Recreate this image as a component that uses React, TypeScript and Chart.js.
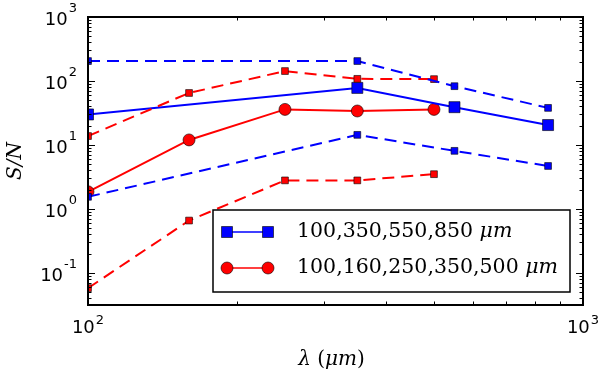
import React, { useEffect, useRef } from "react";
import { Chart, registerables } from "chart.js";

Chart.register(...registerables);

// ---- data ----
const blueWavelengths = [100, 350, 550, 850];
const blueMid = [30, 78, 39, 20.5];
const blueUpper = [205, 205, 83, 38];
const blueLower = [1.55, 14.4, 8.1, 4.7];

const redWavelengths = [100, 160, 250, 350, 500];
const redMid = [1.86, 12, 36, 34, 36];
const redUpper = [13.8, 65, 143, 108, 107];
const redLower = [0.058, 0.66, 2.8, 2.8, 3.5];

const xDecades = [2, 3];
const yDecades = [-1, 0, 1, 2, 3];
const legendLabels = ["100,350,550,850 ", "100,160,250,350,500 "];
const legendUnit = "μm";
const yTitle = "S/N";

const BLUE = "#0000ff";
const RED = "#ff0000";

const pts = (xs: number[], ys: number[]) => xs.map((x, i) => ({ x, y: ys[i] }));

const clipper = {
  id: "clipper",
  beforeDatasetsDraw(chart: any) {
    const { ctx, chartArea: a } = chart;
    ctx.save();
    ctx.beginPath();
    ctx.rect(a.left, a.top, a.right - a.left, a.bottom - a.top);
    ctx.clip();
  },
  afterDatasetsDraw(chart: any) {
    chart.ctx.restore();
  },
};

const overlay = {
  id: "overlay",
  afterDraw(chart: any) {
    const { ctx, chartArea: a, scales } = chart;
    const sx = scales.x;
    const sy = scales.y;
    ctx.save();
    ctx.strokeStyle = "#000";
    ctx.lineWidth = 1;
    const majorLen = 7;
    const minorLen = 3.5;
    for (let n = -2; n <= 3; n++) {
      for (let m = 1; m <= 9; m++) {
        const v = m * Math.pow(10, n);
        const py = Math.round(sy.getPixelForValue(v)) + 0.5;
        if (py < a.top - 0.1 || py > a.bottom + 0.1) continue;
        const len = m === 1 ? majorLen : minorLen;
        ctx.beginPath();
        ctx.moveTo(a.left, py);
        ctx.lineTo(a.left + len, py);
        ctx.moveTo(a.right, py);
        ctx.lineTo(a.right - len, py);
        ctx.stroke();
      }
    }
    for (let n = 2; n <= 3; n++) {
      for (let m = 1; m <= 9; m++) {
        const v = m * Math.pow(10, n);
        const px = Math.round(sx.getPixelForValue(v)) + 0.5;
        if (px < a.left - 0.1 || px > a.right + 0.1) continue;
        const len = m === 1 ? majorLen : minorLen;
        ctx.beginPath();
        ctx.moveTo(px, a.bottom);
        ctx.lineTo(px, a.bottom - len);
        ctx.moveTo(px, a.top);
        ctx.lineTo(px, a.top + len);
        ctx.stroke();
      }
    }
    ctx.lineWidth = 2;
    ctx.strokeRect(a.left, a.top, a.right - a.left, a.bottom - a.top);

    const baseFont = "18px 'DejaVu Sans'";
    const expFont = "13px 'DejaVu Sans'";
    ctx.fillStyle = "#000";
    ctx.textBaseline = "middle";
    for (const n of yDecades) {
      const py = sy.getPixelForValue(Math.pow(10, n));
      const exp = String(n);
      ctx.font = expFont;
      const we = ctx.measureText(exp).width;
      const right = a.left - 11;
      ctx.textAlign = "left";
      ctx.fillText(exp, right - we, py - 8);
      ctx.font = baseFont;
      ctx.textAlign = "right";
      ctx.fillText("10", right - we - 1, py + 3);
    }
    for (const n of xDecades) {
      const px = sx.getPixelForValue(Math.pow(10, n));
      const exp = String(n);
      ctx.font = baseFont;
      const wb = ctx.measureText("10").width;
      ctx.font = expFont;
      const we = ctx.measureText(exp).width;
      const start = px - (wb + we + 1) / 2;
      ctx.font = baseFont;
      ctx.textAlign = "left";
      ctx.fillText("10", start, a.bottom + 23);
      ctx.font = expFont;
      ctx.fillText(exp, start + wb + 1, a.bottom + 16);
    }

    const tf = "20px 'DejaVu Serif'";
    const ti = "italic 20px 'DejaVu Serif'";
    const parts: [string, string][] = [["λ", ti], [" (", tf], ["μm", ti], [")", tf]];
    let tw = 0;
    for (const [s, f] of parts) { ctx.font = f; tw += ctx.measureText(s).width; }
    let tx = (a.left + a.right) / 2 - 4 - tw / 2;
    ctx.textAlign = "left";
    for (const [s, f] of parts) {
      ctx.font = f;
      ctx.fillText(s, tx, a.bottom + 55);
      tx += ctx.measureText(s).width;
    }

    ctx.save();
    ctx.translate(16, (a.top + a.bottom) / 2);
    ctx.rotate(-Math.PI / 2);
    ctx.textAlign = "center";
    ctx.font = "italic 20px 'DejaVu Serif'";
    ctx.fillText(yTitle, 0, 0);
    ctx.restore();

    const lx = 213, ly = 210, lw = 357, lh = 82;
    ctx.fillStyle = "#fff";
    ctx.fillRect(lx, ly, lw, lh);
    ctx.lineWidth = 1.5;
    ctx.strokeStyle = "#000";
    ctx.strokeRect(lx, ly, lw, lh);
    const rows = [
      { y: 232, color: BLUE, shape: "rect", label: legendLabels[0] },
      { y: 268, color: RED, shape: "circle", label: legendLabels[1] },
    ];
    for (const r of rows) {
      ctx.strokeStyle = r.color;
      ctx.lineWidth = 1.5;
      ctx.beginPath();
      ctx.moveTo(227, r.y);
      ctx.lineTo(268, r.y);
      ctx.stroke();
      for (const mx of [227, 268]) {
        ctx.fillStyle = r.color;
        ctx.strokeStyle = "#000";
        ctx.lineWidth = 0.6;
        ctx.beginPath();
        if (r.shape === "rect") ctx.rect(mx - 5.5, r.y - 5.5, 11, 11);
        else ctx.arc(mx, r.y, 6, 0, Math.PI * 2);
        ctx.fill();
        ctx.stroke();
      }
      ctx.fillStyle = "#000";
      ctx.textAlign = "left";
      ctx.textBaseline = "middle";
      ctx.font = "20.5px 'DejaVu Serif'";
      ctx.fillText(r.label, 297, r.y);
      const w = ctx.measureText(r.label).width;
      ctx.font = "italic 20.5px 'DejaVu Serif'";
      ctx.fillText(legendUnit, 297 + w, r.y);
    }
    ctx.restore();
  },
};

export default function App() {
  const ref = useRef<HTMLCanvasElement>(null);
  useEffect(() => {
    if (!ref.current) return;
    const dashed = [12, 7];
    const small = {
      pointRadius: 4.8,
      pointStyle: "rect",
      pointBorderColor: "#000",
      pointBorderWidth: 0.6,
      borderWidth: 2,
      borderDash: dashed,
      fill: false,
      tension: 0,
    };
    const chart = new Chart(ref.current, {
      type: "line",
      data: {
        datasets: [
          { ...small, data: pts(blueWavelengths, blueUpper), borderColor: BLUE, pointBackgroundColor: BLUE },
          { ...small, data: pts(blueWavelengths, blueLower), borderColor: BLUE, pointBackgroundColor: BLUE },
          { ...small, data: pts(redWavelengths, redUpper), borderColor: RED, pointBackgroundColor: RED },
          { ...small, data: pts(redWavelengths, redLower), borderColor: RED, pointBackgroundColor: RED },
          {
            data: pts(blueWavelengths, blueMid),
            borderColor: BLUE,
            pointBackgroundColor: BLUE,
            pointBorderColor: "#000",
            pointBorderWidth: 0.6,
            pointStyle: "rect",
            pointRadius: 7.8,
            borderWidth: 2,
            fill: false,
          },
          {
            data: pts(redWavelengths, redMid),
            borderColor: RED,
            pointBackgroundColor: RED,
            pointBorderColor: "#000",
            pointBorderWidth: 0.6,
            pointStyle: "circle",
            pointRadius: 6,
            borderWidth: 2,
            fill: false,
          },
        ] as any,
      },
      options: {
        responsive: false,
        animation: false,
        events: [],
        layout: { padding: { left: 88, top: 17, right: 17, bottom: 68 } },
        scales: {
          x: { type: "logarithmic", min: 100, max: 1000, display: false },
          y: { type: "logarithmic", min: Math.pow(10, -1.5), max: 1000, display: false },
        },
        plugins: { legend: { display: false }, tooltip: { enabled: false } },
      },
      plugins: [clipper, overlay],
    } as any);
    return () => chart.destroy();
  }, []);
  return (
    <div style={{ position: "fixed", left: 0, top: 0, width: 600, height: 373, background: "#fff" }}>
      <canvas ref={ref} width={600} height={373} />
    </div>
  );
}
